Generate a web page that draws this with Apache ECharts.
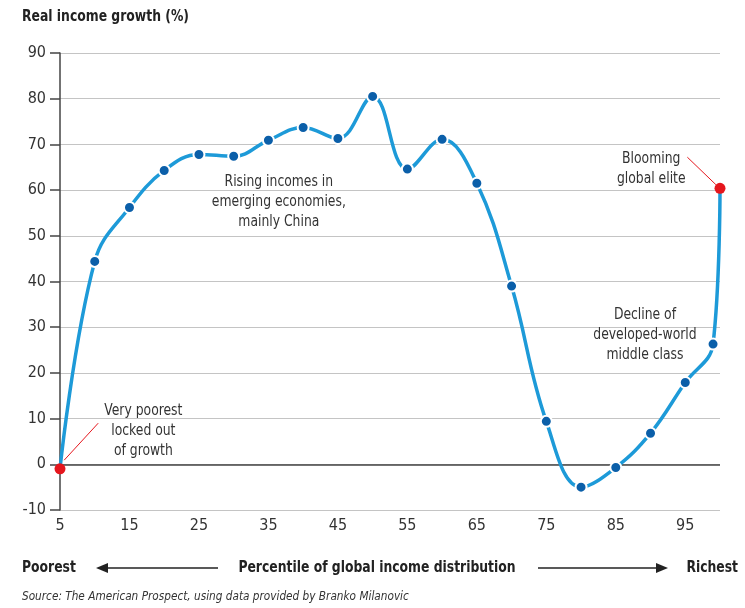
<!DOCTYPE html>
<html><head><meta charset="utf-8">
<script src="https://cdn.jsdelivr.net/npm/echarts@6/dist/echarts.min.js"></script>
<style>html,body{margin:0;padding:0;background:#fff}#c{width:745px;height:608px}</style>
</head><body><div id="c"></div>
<script>
var percentiles = [5,10,15,20,25,30,35,40,45,50,55,60,65,70,75,80,85,90,95,99,100];
var growth = [-1,44.4,56.2,64.3,67.8,67.4,70.9,73.7,71.3,80.5,64.6,71.1,61.5,39.0,9.4,-5.0,-0.7,6.8,17.9,26.3,60.4];
var highlighted = [0, 20];
var yTicks = {min:-10, max:90, step:10};
var xTicks = {min:5, max:100, step:10};
var annotations = [
  {lines:['Very poorest','locked out','of growth'], at:[17.0, 13.9]},
  {lines:['Rising incomes in','emerging economies,','mainly China'], at:[36.5, 64.1]},
  {lines:['Decline of','developed-world','middle class'], at:[89.2, 34.8]},
  {lines:['Blooming','global elite'], at:[90.1, 69.0]}
];
var leaders = [
  [[5.6, 0.9],[10.5, 9.0]],
  [[95.3, 67.2],[99.4, 61.2]]
];
var FONT = '"Liberation Sans Narrow","DejaVu Sans Condensed","Roboto",sans-serif';
var SX = 0.86;
var chart = echarts.init(document.getElementById('c'));
var data = percentiles.map(function(p,i){
  var d = {value:[p, growth[i]]};
  if (highlighted.indexOf(i) >= 0) d.itemStyle = {color:'#e5161d', borderWidth:0};
  return d;
});
chart.setOption({
  animation:false,
  grid:{left:60, right:25, top:53, bottom:98},
  xAxis:{type:'value', min:xTicks.min, max:xTicks.max, interval:xTicks.step,
    axisLine:{show:false}, axisTick:{show:false}, splitLine:{show:false},
    axisLabel:{showMaxLabel:false, color:'#333', fontSize:16, fontFamily:FONT, margin:8,
      formatter:function(v){return v===100?'':v;}}},
  yAxis:{type:'value', min:yTicks.min, max:yTicks.max, interval:yTicks.step,
    axisLine:{show:true, lineStyle:{color:'#444', width:1.5}},
    axisTick:{show:true, length:10, lineStyle:{color:'#444', width:1.5}},
    splitLine:{show:true, lineStyle:{color:'#c4c4c4', width:1}},
    axisLabel:{color:'#333', fontSize:16, fontFamily:FONT, margin:14}},
  series:[{
    type:'line', data:data, smooth:0.4,
    lineStyle:{color:'#1d9ad8', width:3.5},
    symbol:'circle', symbolSize:11,
    itemStyle:{color:'#0b5fa9', borderColor:'#fff', borderWidth:2},
    z:5,
    markLine:{silent:true, symbol:'none', label:{show:false},
      lineStyle:{color:'#444', width:1.5, type:'solid'},
      data:[{yAxis:0}].concat(leaders.map(function(l){
        return [{coord:l[0], lineStyle:{color:'#e5161d', width:1}},{coord:l[1]}];
      }))}
  }]
});
function txt(x, y, text, font, align, vAlign, extra){
  var e = {type:'text', x:x, y:y, scaleX:SX, style:{text:text, font:font, fill:'#222', align:align, verticalAlign:vAlign}};
  if (extra) for (var k in extra) e.style[k] = extra[k];
  return e;
}
function draw(){
  var g = [];
  g.push(txt(22, 17, 'Real income growth (%)', 'bold 16px '+FONT, 'left', 'middle'));
  annotations.forEach(function(a){
    var p = chart.convertToPixel({gridIndex:0}, a.at);
    g.push(txt(p[0], p[1], a.lines.join('\n'), '16px '+FONT, 'center', 'top', {fill:'#333', lineHeight:20}));
  });
  var yb = 568;
  g.push(txt(22, yb, 'Poorest', 'bold 16px '+FONT, 'left', 'middle'));
  g.push({type:'line', shape:{x1:100, y1:yb, x2:218, y2:yb}, style:{stroke:'#222', lineWidth:1.5}});
  g.push({type:'polygon', shape:{points:[[96,yb],[108,yb-5],[108,yb+5]]}, style:{fill:'#222'}});
  g.push(txt(377, yb, 'Percentile of global income distribution', 'bold 16px '+FONT, 'center', 'middle'));
  g.push({type:'line', shape:{x1:538, y1:yb, x2:664, y2:yb}, style:{stroke:'#222', lineWidth:1.5}});
  g.push({type:'polygon', shape:{points:[[668,yb],[656,yb-5],[656,yb+5]]}, style:{fill:'#222'}});
  g.push(txt(738, yb, 'Richest', 'bold 16px '+FONT, 'right', 'middle'));
  var s = txt(22, 597, 'Source: The American Prospect, using data provided by Branko Milanovic', 'italic 13px '+FONT, 'left', 'middle', {fill:'#333'});
  s.scaleX = 0.9;
  g.push(s);
  chart.setOption({graphic:g});
}
draw();
</script></body></html>
